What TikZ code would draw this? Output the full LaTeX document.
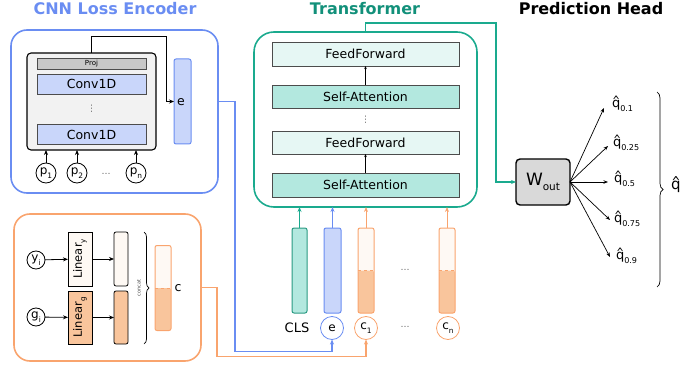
\documentclass[tikz,border=0pt]{standalone}
\usepackage{fontspec}
\setmainfont{DejaVu Sans}
\usetikzlibrary{arrows.meta,decorations.pathreplacing,calc}
\definecolor{cblue}{HTML}{6A8DF2}
\definecolor{lblue}{HTML}{C9D6FA}
\definecolor{corange}{HTML}{F9A46E}
\definecolor{lorange}{HTML}{F9C59C}
\definecolor{pale}{HTML}{FEF9F4}
\definecolor{cteal}{HTML}{1AAA8E}
\definecolor{dteal}{HTML}{2A9A82}
\definecolor{tealtitle}{HTML}{12907A}
\definecolor{lteal}{HTML}{B3E8DF}
\definecolor{vlteal}{HTML}{E6F7F4}
\definecolor{gbox}{HTML}{F2F2F2}
\definecolor{gproj}{HTML}{C8C8C8}
\definecolor{wgray}{HTML}{D9D9D9}
\newcommand{\fsz}[1]{\fontsize{#1}{#1}\selectfont}
\newcommand{\lsub}[1]{\raisebox{-0.3em}{\scalebox{0.62}{#1}}}
\newcommand{\qh}[1]{\ooalign{q\cr\hidewidth\raisebox{0.14em}{\scalebox{0.7}[1]{\^{}}}\hidewidth\cr}\lsub{#1}}
\begin{document}
\begin{tikzpicture}[x=1pt,y=-1pt,
  >={Stealth[length=5pt,width=4pt]},
  every node/.style={inner sep=0pt, outer sep=0pt},
  title/.style={font=\fsz{16}\bfseries},
  tblock/.style={draw=black!70, line width=0.7pt, minimum width=187pt, minimum height=24pt, font=\fsz{12.5}},
  ffblock/.style={tblock, fill=vlteal},
  sablock/.style={tblock, fill=lteal},
  conv/.style={draw=black!70, fill=lblue, line width=0.7pt, minimum width=109pt, minimum height=20pt, font=\fsz{12.5}},
  circ/.style={circle, draw, line width=0.8pt, minimum size=20pt, font=\fsz{12}},
  vecbar/.style={rounded corners=2pt, line width=1pt, minimum width=16pt, minimum height=85pt},
  splitbar/.style={vecbar, draw=corange, fill=pale, path picture={
      \fill[lorange] (path picture bounding box.west) rectangle (path picture bounding box.south east);
      \draw[corange, dashed, line width=0.6pt] (path picture bounding box.west) -- (path picture bounding box.east);}},
  conn/.style={line width=1.1pt},
  arr/.style={->, line width=0.8pt},
  dots/.style={font=\fsz{9}, text=black!60},
  qlab/.style={anchor=west, font=\fsz{13}}
]
\useasboundingbox (0,0) rectangle (682,366);

% titles
\node[title, text=cblue] (t1) at (115,8.5) {CNN Loss Encoder};
\node[title, text=tealtitle] (t2) at (365,8.5) {Transformer};
\node[title] (t3) at (591,8.5) {Prediction Head};

% ---------------- CNN loss encoder
\node[draw=cblue, line width=1.6pt, rounded corners=16pt, minimum width=207pt, minimum height=163pt] (cnn) at (114.5,111.5) {};
\node[draw=black, fill=gbox, line width=1.1pt, rounded corners=4pt, minimum width=129pt, minimum height=97pt] (inner) at (91.5,101.5) {};
\node[draw=black!70, fill=gproj, line width=0.6pt, minimum width=109pt, minimum height=11pt, font=\fsz{7}] (proj) at (91.5,63.5) {Proj};
\node[conv] (conv1) at (91.5,84) {Conv1D};
\node[conv] (conv2) at (91.5,134.5) {Conv1D};
\node[dots] (vd1) at (91.5,109) {⋮};
\node[circ] (p1) at (46,173) {p\lsub{1}};
\node[circ] (p2) at (77,173) {p\lsub{2}};
\node[circ] (pn) at (136,173) {p\lsub{n}};
\node[dots] (pd) at (106,174) {\ldots};
\foreach \p in {p1,p2,pn} \draw[arr] (\p.north) -- (\p.north |- inner.south);
\node[draw=cblue, fill=lblue, line width=1pt, rounded corners=2pt, minimum width=17pt, minimum height=85pt] (ebar) at (182.5,101.5) {};
\node[font=\fsz{12.5}] (elab) at (181,102) {e};
\draw[arr] (inner.north) -- ++(0,-17) -| ($(ebar.west)+(-8,0)$) -- (ebar.west);

% ---------------- orange encoder
\node[draw=corange, line width=1.6pt, rounded corners=16pt, minimum width=187pt, minimum height=147pt] (obox) at (107.5,287.5) {};
\node[circ, minimum size=18pt] (yi) at (36,260) {y\lsub{i}};
\node[circ, minimum size=18pt] (gi) at (36,317) {g\lsub{i}};
\node[draw=black, fill=pale, line width=0.8pt, minimum width=24pt, minimum height=54pt] (liny) at (80,259) {};
\node[rotate=90, font=\fsz{11.5}] at (liny.center) {Linear\lsub{y}};
\node[draw=black, fill=lorange, line width=0.8pt, minimum width=24pt, minimum height=53pt] (ling) at (80,317.5) {};
\node[rotate=90, font=\fsz{11.5}] at (ling.center) {Linear\lsub{g}};
\node[draw=black, fill=pale, line width=0.8pt, rounded corners=2pt, minimum width=14pt, minimum height=54pt] (hy) at (121,259) {};
\node[draw=black, fill=lorange, line width=0.8pt, rounded corners=2pt, minimum width=14pt, minimum height=53pt] (hg) at (121,317.5) {};
\draw[arr] (yi) -- (liny);
\draw[arr] (gi) -- (ling);
\draw[arr] (liny) -- (hy);
\draw[arr] (ling) -- (hg);
\draw[line width=0.7pt, decorate, decoration={brace, amplitude=5pt}] (144,232) -- (144,344);
\node[rotate=90, font=\fsz{5}, text=black!70] (concat) at (139,288) {concat};
\node[splitbar] (cbar) at (163,288) {};
\node[font=\fsz{12.5}] (clab) at (178,288) {c};

% ---------------- transformer
\node[draw=cteal, line width=1.6pt, rounded corners=20pt, minimum width=223pt, minimum height=175pt] (tbox) at (365.5,119.5) {};
\node[ffblock] (ff1) at (365.5,54) {FeedForward};
\node[sablock, minimum height=23pt] (sa1) at (365.5,96.5) {Self-Attention};
\node[dots] (vd2) at (365.5,120) {⋮};
\node[ffblock, minimum height=23pt] (ff2) at (365.5,142.5) {FeedForward};
\node[sablock] (sa2) at (365.5,185) {Self-Attention};
\draw[->, >={Stealth[length=3pt,width=2.5pt]}, line width=0.8pt] (sa1) -- (ff1);
\draw[->, >={Stealth[length=3pt,width=2.5pt]}, line width=0.8pt] (sa2) -- (ff2);

% input vectors
\node[vecbar, draw=dteal, fill=lteal, minimum width=15pt] (cls) at (299.5,270.5) {};
\node[vecbar, draw=cblue, fill=lblue, minimum width=17pt] (ev) at (332.5,270.5) {};
\node[splitbar] (c1v) at (366,270.5) {};
\node[splitbar] (cnv) at (447,270.5) {};
\node[dots] (vdots) at (405,270) {\ldots};
\draw[->, cteal, line width=1pt] (cls.north) -- (cls.north |- tbox.south);
\draw[->, cblue, line width=1pt] (ev.north) -- (ev.north |- tbox.south);
\draw[->, corange, line width=1pt] (c1v.north) -- (c1v.north |- tbox.south);
\draw[->, corange, line width=1pt] (cnv.north) -- (cnv.north |- tbox.south);
\node[font=\fsz{13}] (clslab) at (297,328) {CLS};
\node[circ, draw=cblue, minimum size=23pt] (ec) at (332,328) {e};
\node[circ, draw=corange, minimum size=23pt] (c1c) at (366,328) {c\lsub{1}};
\node[circ, draw=corange, minimum size=23pt] (cnc) at (448,328) {c\lsub{n}};
\node[dots] (cd) at (405,327) {\ldots};

% connectors
\draw[->, cblue, conn] (ebar.west -| cnn.east) -- ++(17,0) |- ($(ec.south)+(0,12)$) -- (ec.south);
\draw[->, corange, conn] (obox.east) -- ++(16,0) |- ($(c1c.south)+(0,17)$) -- (c1c.south);

% ---------------- prediction head
\node[draw=black, fill=wgray, line width=1.4pt, rounded corners=4pt, minimum width=54pt, minimum height=46pt] (wout) at (543,182) {\fsz{17}W\raisebox{-5pt}{\fsz{10.5}out}};
\draw[->, cteal, conn] (tbox.north) -- ++(0,-9) -| ($(wout.west)+(-20,0)$) -- (wout.west);

\node[qlab] (q1) at (612,106) {\qh{0.1}};
\node[qlab] (q2) at (613,145) {\qh{0.25}};
\node[qlab] (q3) at (614,181) {\qh{0.5}};
\node[qlab] (q4) at (614,221) {\qh{0.75}};
\node[qlab] (q5) at (616,258) {\qh{0.9}};
\coordinate (o1) at (604,108);
\coordinate (o2) at (608,146);
\coordinate (o3) at (608,182);
\coordinate (o4) at (610,220);
\coordinate (o5) at (610,257);
\foreach \o in {o1,o2,o3,o4,o5} \draw[->, line width=0.7pt, >={Stealth[length=4.5pt,width=3.5pt]}] (wout.east) -- (\o);
\draw[line width=0.7pt, decorate, decoration={brace, amplitude=6pt}] (657,92) -- (657,287);
\node[font=\fsz{15}] (qall) at (676,188) {\qh{}};
\end{tikzpicture}
\end{document}
